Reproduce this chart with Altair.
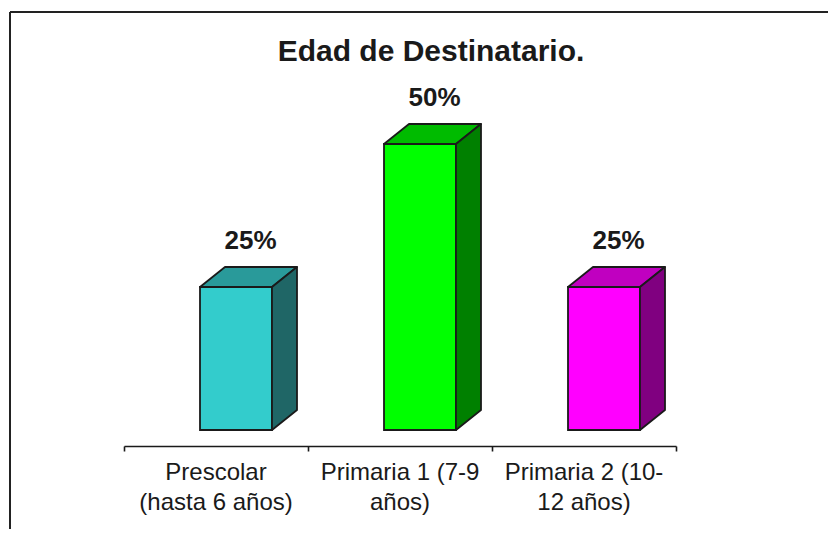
import altair as alt
import pandas as pd

# ---------------- data ----------------
categories = ["Prescolar (hasta 6 años)", "Primaria 1 (7-9 años)", "Primaria 2 (10-12 años)"]
axis_labels = ["Prescolar\n(hasta 6 años)", "Primaria 1 (7-9\naños)", "Primaria 2 (10-\n12 años)"]
values = [25, 50, 25]
value_labels = ["25%", "50%", "25%"]
title_text = "Edad de Destinatario."

# ---------------- styles ----------------
front_colors = ["#33CCCC", "#00FF00", "#FF00FF"]
top_colors = ["#299A9A", "#00BB00", "#C000C0"]
side_colors = ["#1F6666", "#008000", "#800080"]
INK = "#1a1a1a"
FONT = "Liberation Sans"

# ---------------- layout (pixels) ----------------
W, H = 552, 376
PAD_L, PAD_T = 116, 62
PAD_R = 836 - 16 - PAD_L - W
PAD_B = 537 - 16 - PAD_T - H
PX_X = W / 3.0          # pixels per category unit
PX_Y = 5.72             # pixels per percent
FLOOR_PX = 16           # bar base above axis line
DEPTH_DX, DEPTH_DY = 25, 20
GAP_PX, BAR_PX = 56, 72

y_min = -FLOOR_PX / PX_Y
y_max = y_min + H / PX_Y
dx = DEPTH_DX / PX_X
dy = DEPTH_DY / PX_Y
shift = (FLOOR_PX * DEPTH_DX / DEPTH_DY) / PX_X
gap = GAP_PX / PX_X
bw = BAR_PX / PX_X

front_rows, top_rows, side_rows, lab_rows, cat_rows = [], [], [], [], []
for i, (c, v) in enumerate(zip(categories, values)):
    x0 = i + shift + gap
    x1 = x0 + bw
    front_rows.append({"cat": c, "x0": x0, "x1": x1, "y0": 0, "y1": v})
    top_rows.append({"cat": c, "y": v, "xa": x0, "xb": x1})
    top_rows.append({"cat": c, "y": v + dy, "xa": x0 + dx, "xb": x1 + dx})
    side_rows.append({"cat": c, "x": x1, "ya": 0, "yb": v})
    side_rows.append({"cat": c, "x": x1 + dx, "ya": dy, "yb": v + dy})
    lab_rows.append({"cat": c, "lx": (x0 + x1) / 2 + dx / 2 + 2 / PX_X,
                     "ly": v + dy + 26 / PX_Y, "t": value_labels[i]})
    cat_rows.append({"cat": c, "cx": i + 0.5, "label": axis_labels[i]})

xs = alt.Scale(domain=[0, 3], nice=False, zero=False)
ys = alt.Scale(domain=[y_min, y_max], nice=False, zero=False)
xaxis = alt.Axis(values=[0, 1, 2, 3], labels=False, ticks=True, tickSize=5,
                 tickWidth=1.6, domainWidth=1.6, domainColor=INK, tickColor=INK,
                 grid=False, title=None)


def col(rng):
    return alt.Color("cat:N", scale=alt.Scale(domain=categories, range=rng), legend=None)


front = alt.Chart(pd.DataFrame(front_rows)).mark_rect(stroke=INK, strokeWidth=1.8).encode(
    x=alt.X("x0:Q", scale=xs, axis=xaxis), x2="x1:Q",
    y=alt.Y("y0:Q", scale=ys, axis=None), y2="y1:Q",
    color=col(front_colors),
)

top = alt.Chart(pd.DataFrame(top_rows)).mark_area(
    orient="horizontal", stroke=INK, strokeWidth=1.8, strokeJoin="round"
).encode(
    y=alt.Y("y:Q", scale=ys, axis=None),
    x=alt.X("xa:Q", scale=xs, axis=xaxis), x2="xb:Q",
    color=col(top_colors), detail="cat:N",
)

side = alt.Chart(pd.DataFrame(side_rows)).mark_area(
    orient="vertical", stroke=INK, strokeWidth=1.8, strokeJoin="round"
).encode(
    x=alt.X("x:Q", scale=xs, axis=xaxis),
    y=alt.Y("ya:Q", scale=ys, axis=None), y2="yb:Q",
    color=col(side_colors), detail="cat:N",
)

labels = alt.Chart(pd.DataFrame(lab_rows)).mark_text(
    font=FONT, fontSize=26, fontWeight="bold", color=INK, baseline="middle", align="center"
).encode(
    x=alt.X("lx:Q", scale=xs, axis=xaxis),
    y=alt.Y("ly:Q", scale=ys, axis=None),
    text="t:N",
)

cat_text = alt.Chart(pd.DataFrame(cat_rows)).mark_text(
    font=FONT, fontSize=24, color=INK, baseline="alphabetic", align="center",
    lineBreak="\n", lineHeight=30,
).encode(
    x=alt.X("cx:Q", scale=xs, axis=xaxis),
    y=alt.value(H + 34),
    text="label:N",
)

one = pd.DataFrame({"a": [0]})
title = alt.Chart(one).mark_text(
    font=FONT, fontSize=30, fontWeight="bold", color=INK, baseline="alphabetic", align="center"
).encode(
    x=alt.value(431 - 8 - PAD_L), y=alt.value(61 - 8 - PAD_T), text=alt.value(title_text)
)

frame_h = alt.Chart(one).mark_rule(color="#222", strokeWidth=2).encode(
    x=alt.value(10 - 8 - PAD_L), x2=alt.value(W + PAD_R), y=alt.value(12 - 8 - PAD_T)
)
frame_v = alt.Chart(one).mark_rule(color="#222", strokeWidth=2).encode(
    x=alt.value(10 - 8 - PAD_L), y=alt.value(12 - 8 - PAD_T), y2=alt.value(H + PAD_B)
)

chart = alt.layer(front, top, side, labels, cat_text, title, frame_h, frame_v).resolve_scale(
    color="independent"
).properties(
    width=W, height=H, autosize="none", background="white",
    padding={"left": PAD_L, "top": PAD_T, "right": PAD_R, "bottom": PAD_B},
).configure_view(strokeWidth=0, stroke="transparent")

chart.save("out.html", embed_options={"renderer": "svg", "actions": False})
